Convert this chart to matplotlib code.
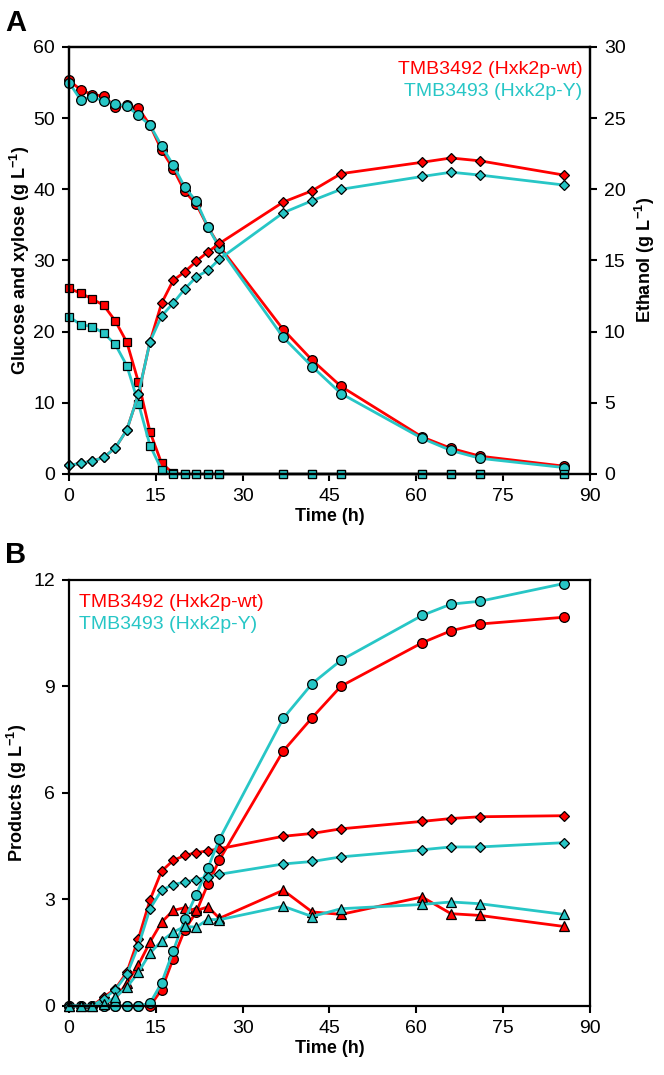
import matplotlib
matplotlib.use("Agg")
import matplotlib.pyplot as plt

plt.rcParams['font.family'] = ['Liberation Sans', 'DejaVu Sans']
plt.rcParams['mathtext.fontset'] = 'custom'
plt.rcParams['mathtext.rm'] = 'Liberation Sans'
plt.rcParams['mathtext.bf'] = 'Liberation Sans:bold'

# sampling times (h)
time = [0, 2, 4, 6, 8, 10, 12, 14, 16, 18, 20, 22, 24, 26, 37, 42, 47, 61, 66, 71, 85.5]

# panel A: sugars (g/L) and ethanol (g/L)
xyl_wt = [55.3, 54.0, 53.3, 53.1, 51.6, 51.8, 51.4, 49.0, 45.5, 42.9, 39.7, 37.9, 34.7, 32.0,
          20.3, 16.0, 12.3, 5.2, 3.6, 2.5, 1.1]
xyl_y = [55.0, 52.6, 53.0, 52.4, 52.0, 51.7, 50.4, 49.0, 46.1, 43.4, 40.3, 38.3, 34.7, 31.8,
         19.2, 15.1, 11.3, 5.0, 3.3, 2.2, 0.9]
glc_wt = [26.1, 25.4, 24.6, 23.7, 21.5, 18.5, 12.9, 5.9, 1.5, 0.1, 0, 0, 0, 0,
          0, 0, 0, 0, 0, 0, 0]
glc_y = [22.1, 21.0, 20.7, 19.8, 18.2, 15.2, 9.9, 4.0, 0.6, 0, 0, 0, 0, 0,
         0, 0, 0, 0, 0, 0, 0]
eth_wt = [0.6, 0.75, 0.9, 1.17, 1.83, 3.1, 5.6, 9.3, 12.0, 13.6, 14.2, 14.95, 15.6, 16.2,
          19.1, 19.9, 21.1, 21.9, 22.2, 22.0, 21.0]
eth_y = [0.6, 0.75, 0.9, 1.17, 1.83, 3.1, 5.6, 9.3, 11.1, 12.0, 13.0, 13.85, 14.3, 15.1,
         18.35, 19.2, 20.0, 20.9, 21.2, 21.0, 20.3]

# panel B: products (g/L)
circ_wt = [0, 0, 0, 0, 0, 0, 0, 0, 0.46, 1.33, 2.15, 2.65, 3.44, 4.12,
           7.18, 8.12, 9.01, 10.23, 10.57, 10.76, 10.95]
circ_y = [0, 0, 0, 0, 0, 0, 0, 0.08, 0.65, 1.55, 2.44, 3.14, 3.89, 4.7,
          8.1, 9.08, 9.74, 11.0, 11.32, 11.4, 11.9]
diam_wt = [0, 0, 0, 0.25, 0.48, 0.95, 1.9, 2.99, 3.8, 4.1, 4.24, 4.32, 4.37, 4.43,
           4.78, 4.86, 4.99, 5.2, 5.28, 5.33, 5.36]
diam_y = [0, 0, 0, 0.2, 0.46, 0.89, 1.7, 2.74, 3.26, 3.42, 3.49, 3.56, 3.63, 3.71,
          4.0, 4.07, 4.2, 4.4, 4.48, 4.48, 4.6]
tri_wt = [0, 0, 0, 0.05, 0.2, 0.65, 1.16, 1.8, 2.36, 2.69, 2.77, 2.69, 2.79, 2.47,
          3.26, 2.65, 2.58, 3.07, 2.6, 2.55, 2.24]
tri_y = [0, 0, 0, 0.05, 0.25, 0.53, 0.95, 1.49, 1.83, 2.08, 2.24, 2.22, 2.44, 2.43,
         2.81, 2.52, 2.74, 2.86, 2.93, 2.88, 2.58]

RED = '#ff0000'
CYAN = '#27c6c6'
LBL_WT = 'TMB3492 (Hxk2p-wt)'
LBL_Y = 'TMB3493 (Hxk2p-Y)'


def series(ax, y, color, marker, ms):
    ax.plot(time, y, color=color, lw=2.0, marker=marker, ms=ms,
            mfc=color, mec='black', mew=0.9, clip_on=False)


def style(ax):
    for s in ax.spines.values():
        s.set_linewidth(1.6)
    ax.tick_params(direction='out', length=5, width=1.5, labelsize=14, pad=5)


fig = plt.figure(figsize=(6.64, 10.75), dpi=100)

# ---- panel A ----
axA = fig.add_axes([0.1039, 0.5591, 0.7846, 0.3972])
axA2 = axA.twinx()
series(axA, xyl_wt, RED, 'o', 7)
series(axA, glc_wt, RED, 's', 6)
series(axA, xyl_y, CYAN, 'o', 7)
series(axA, glc_y, CYAN, 's', 6)
series(axA2, eth_wt, RED, 'D', 5.5)
series(axA2, eth_y, CYAN, 'D', 5.5)

axA.set_xlim(0, 90)
axA.set_ylim(0, 60)
axA2.set_ylim(0, 30)
axA.set_xticks(range(0, 91, 15))
axA.set_yticks(range(0, 61, 10))
axA2.set_yticks(range(0, 31, 5))
style(axA)
style(axA2)
axA.set_xlabel('Time (h)', fontsize=13, fontweight='bold', labelpad=2)
axA.set_ylabel(r'Glucose and xylose (g L$^{\mathbf{-1}}$)', fontsize=13, fontweight='bold', labelpad=1)
axA2.set_ylabel(r'Ethanol (g L$^{\mathbf{-1}}$)', fontsize=13, fontweight='bold', labelpad=5)
axA.text(0.985, 0.968, LBL_WT, color=RED, fontsize=14, ha='right', va='top', transform=axA.transAxes)
axA.text(0.985, 0.915, LBL_Y, color=CYAN, fontsize=14, ha='right', va='top', transform=axA.transAxes)
fig.text(0.008, 0.992, 'A', fontsize=21, fontweight='bold', va='top')

# ---- panel B ----
axB = fig.add_axes([0.1039, 0.0642, 0.7846, 0.3963])
series(axB, circ_wt, RED, 'o', 7)
series(axB, diam_wt, RED, 'D', 5.5)
series(axB, tri_wt, RED, '^', 7)
series(axB, circ_y, CYAN, 'o', 7)
series(axB, diam_y, CYAN, 'D', 5.5)
series(axB, tri_y, CYAN, '^', 7)

axB.set_xlim(0, 90)
axB.set_ylim(0, 12)
axB.set_xticks(range(0, 91, 15))
axB.set_yticks(range(0, 13, 3))
style(axB)
axB.set_xlabel('Time (h)', fontsize=13, fontweight='bold', labelpad=2)
axB.set_ylabel(r'Products (g L$^{\mathbf{-1}}$)', fontsize=13, fontweight='bold', labelpad=3)
axB.text(0.02, 0.968, LBL_WT, color=RED, fontsize=14, ha='left', va='top', transform=axB.transAxes)
axB.text(0.02, 0.915, LBL_Y, color=CYAN, fontsize=14, ha='left', va='top', transform=axB.transAxes)
fig.text(0.008, 0.497, 'B', fontsize=21, fontweight='bold', va='top')

fig.savefig('out.png', dpi=100)
